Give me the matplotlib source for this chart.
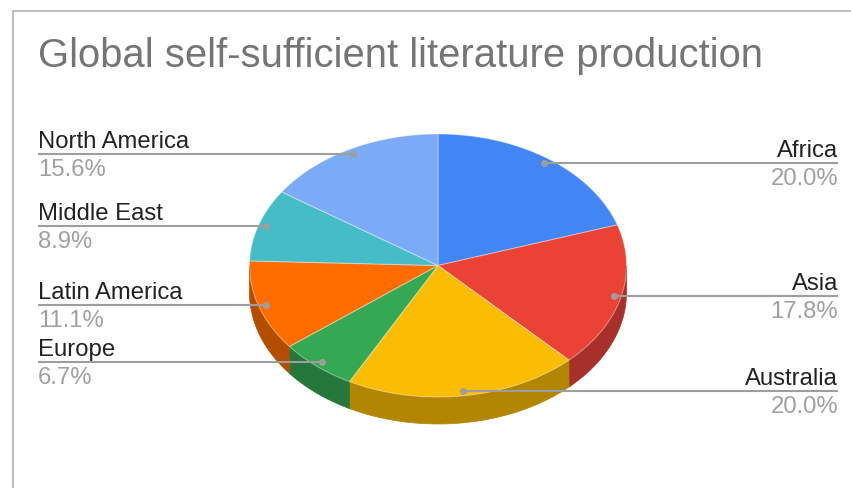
import numpy as np
import matplotlib
matplotlib.use("Agg")
import matplotlib.pyplot as plt
from matplotlib.patches import Polygon

plt.rcParams['font.family'] = ['Liberation Sans', 'DejaVu Sans']

# publications by region (shares shown as percent of total)
regions = ["Africa", "Asia", "Australia", "Europe", "Latin America",
           "Middle East", "North America"]
counts = [9, 8, 9, 3, 5, 4, 7]
top_colors = ["#4285F4", "#EA4335", "#FBBC04", "#34A853", "#FF6D01",
              "#46BDC6", "#7BAAF7"]
side_colors = ["#2F5FAF", "#A8302A", "#B28600", "#25773B", "#B54D00",
               "#32868D", "#5878B0"]

W, H = 851, 489
fig = plt.figure(figsize=(W / 100, H / 100), dpi=100)
ax = fig.add_axes([0, 0, 1, 1])
ax.set_xlim(0, W)
ax.set_ylim(H, 0)
ax.axis("off")

# tilted pie geometry (pixel units)
cx, cy = 438, 266.5
rx, ry = 188.5, 131.5
depth = 27


def pt(t, r=1.0):
    t = np.radians(t)
    return cx + r * rx * np.sin(t), cy - r * ry * np.cos(t)


vals = np.array(counts, dtype=float)
pct = vals / vals.sum() * 100
ang = np.concatenate([[0], np.cumsum(vals / vals.sum() * 360)])

# side walls of the front half
for i in range(len(vals)):
    a0, a1 = max(ang[i], 90), min(ang[i + 1], 270)
    if a1 <= a0:
        continue
    t = np.linspace(a0, a1, 80)
    xs, ys = pt(t)
    poly = np.column_stack([np.concatenate([xs, xs[::-1]]),
                            np.concatenate([ys, ys[::-1] + depth])])
    ax.add_patch(Polygon(poly, closed=True, facecolor=side_colors[i],
                         edgecolor=side_colors[i], lw=0.5))

# top faces
for i in range(len(vals)):
    t = np.linspace(ang[i], ang[i + 1], 120)
    xs, ys = pt(t)
    poly = np.column_stack([np.concatenate([[cx], xs]),
                            np.concatenate([[cy], ys])])
    ax.add_patch(Polygon(poly, closed=True, facecolor=top_colors[i],
                         edgecolor=(1, 1, 1, 0.35), lw=0.8))

# leader lines and labels
line_c = "#9E9E9E"
for i, name in enumerate(regions):
    mid = (ang[i] + ang[i + 1]) / 2
    dx, dy = pt(mid, 0.96)
    right = mid < 180
    x0, x1 = (dx, 838) if right else (38, dx)
    ax.plot([x0, x1], [dy, dy], color=line_c, lw=1.5, solid_capstyle="butt")
    ax.plot(dx, dy, "o", color=line_c, ms=5, mec="none")
    tx = 838 if right else 38
    ha = "right" if right else "left"
    ax.text(tx, dy - 7, name, ha=ha, va="baseline", fontsize=17.2,
            color="#222222")
    ax.text(tx, dy + 21, f"{pct[i]:.1f}%", ha=ha, va="baseline",
            fontsize=17.2, color="#A0A0A0")

ax.text(38, 67, "Global self-sufficient literature production", ha="left",
        va="baseline", fontsize=28.8, color="#757575")

# chart frame
ax.plot([12.5, W], [11.5, 11.5], color="#BDBDBD", lw=1.5)
ax.plot([12.5, 12.5], [11.5, H], color="#BDBDBD", lw=1.5)

fig.savefig("out.png", dpi=100)
